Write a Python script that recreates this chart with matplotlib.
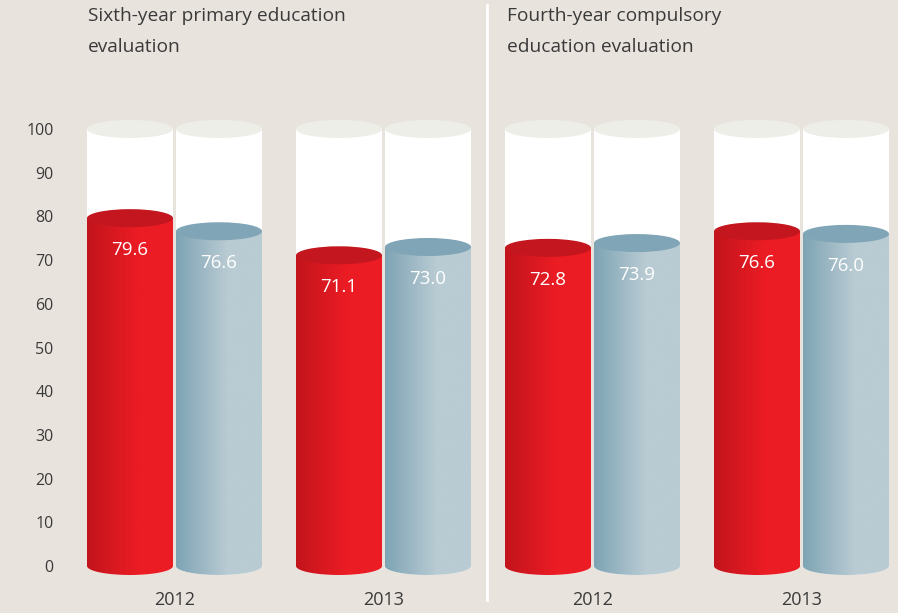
import numpy as np
import matplotlib.pyplot as plt
from matplotlib.path import Path
from matplotlib.patches import PathPatch, Ellipse
from matplotlib.colors import to_rgb

plt.rcParams['font.family'] = ['Open Sans', 'DejaVu Sans']

# scores per evaluation and year
anos = ['2012', '2013', '2012', '2013']
centro = [79.6, 71.1, 72.8, 76.6]      # red series
cat = [76.6, 73.0, 73.9, 76.0]         # blue series
titulos = ['Sixth-year primary education\nevaluation',
           'Fourth-year compulsory\neducation evaluation']
yticks = list(range(0, 101, 10))

bg = '#e9e3dd'
txt = '#3a3a3a'
W, H = 898, 613
px_y = 4.37          # pixels per unit on the value axis
y0_px = 566          # pixel row of value 0

fig = plt.figure(figsize=(W / 100, H / 100), dpi=100, facecolor=bg)
left = 62
ax = fig.add_axes([left / W, 0, 1 - left / W, 1])
ax.set_facecolor(bg)
ax.set_xlim(left, W)
ax.set_ylim((y0_px - H) / px_y, y0_px / px_y)
for s in ax.spines.values():
    s.set_visible(False)
ax.set_xticks([])
ax.set_yticks(yticks)
ax.tick_params(axis='y', length=0, pad=6, labelsize=11.5, labelcolor=txt)

largura = 86
eh = 9 / px_y        # half height of the cylinder ellipses

def corpo(x0, topo):
    # rectangle with rounded (half-ellipse) bottom
    t = np.linspace(np.pi, 2 * np.pi, 60)
    xs = x0 + largura / 2 + largura / 2 * np.cos(t)
    ys = eh * np.sin(t)
    pts = [(x0, topo)] + list(zip(xs, ys)) + [(x0 + largura, topo), (x0, topo)]
    return Path(pts, closed=True)

def gradiente(x0, topo, c_esq, c_dir, meio=0.6):
    n = 200
    f = np.clip(np.linspace(0, 1, n) / meio, 0, 1)
    c1 = np.array(to_rgb(c_esq))
    c2 = np.array(to_rgb(c_dir))
    img = (c1[None, :] * (1 - f[:, None]) + c2[None, :] * f[:, None])[None]
    im = ax.imshow(img, extent=[x0, x0 + largura, -eh, topo], aspect='auto',
                   interpolation='bilinear', zorder=3)
    patch = PathPatch(corpo(x0, topo), facecolor='none', edgecolor='none')
    ax.add_patch(patch)
    im.set_clip_path(patch)

def cilindro(x0, valor, c_esq, c_dir, c_topo):
    # empty glass up to 100
    ax.add_patch(PathPatch(corpo(x0, 100), facecolor='white',
                           edgecolor='none', zorder=1))
    ax.add_patch(Ellipse((x0 + largura / 2, 100), largura, 2 * eh,
                         facecolor='#eeeee9', edgecolor='none', zorder=2))
    # filled part
    gradiente(x0, valor, c_esq, c_dir)
    ax.add_patch(Ellipse((x0 + largura / 2, valor), largura, 2 * eh,
                         facecolor=c_topo, edgecolor='none', zorder=4))
    ax.text(x0 + largura / 2, valor - 7.3, f'{valor:.1f}', color='white',
            fontsize=13.5, ha='center', va='center', zorder=5)

for i in range(4):
    cx = 174.5 + 209 * i
    cilindro(cx - 3 / 2 - largura, centro[i], '#c2141c', '#ec1c24', '#c3161e')
    cilindro(cx + 3 / 2, cat[i], '#7ea4b4', '#b9cbd3', '#7fa5b6')
    ax.text(cx, (y0_px - 600) / px_y, anos[i], color=txt, fontsize=13,
            ha='center', va='center')

# divider between the two evaluations
ax.plot([487, 487], [(y0_px - 5) / px_y, (y0_px - 600) / px_y],
        color='white', lw=2, zorder=0)

for x, t in zip([88, 507], titulos):
    for k, linha in enumerate(t.split('\n')):
        fig.text(x / W, 1 - (16 + 31 * k) / H, linha, color=txt,
                 fontsize=13.8, ha='left', va='center')

fig.savefig('out.png', dpi=100, facecolor=bg)
